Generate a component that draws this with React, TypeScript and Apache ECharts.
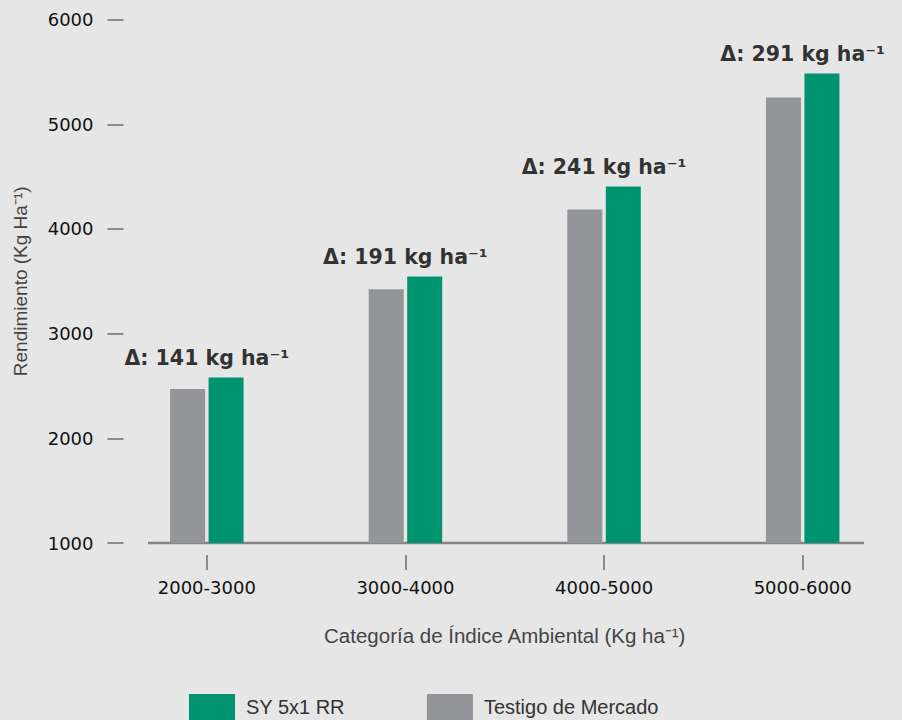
import React, { useEffect, useRef } from "react";
import * as echarts from "echarts";

const categories = ["2000-3000", "3000-4000", "4000-5000", "5000-6000"];
const testigoValues = [2470, 3425, 4185, 5255];
const syValues = [2580, 3545, 4405, 5485];
const deltas = [141, 191, 241, 291];
const yTicks = { min: 1000, max: 6000, interval: 1000 };
const seriesNames = ["SY 5x1 RR", "Testigo de Mercado"];

const GREEN = "#00936f";
const GRAY = "#939598";
const BG = "#e6e6e7";
const FONT = "'Liberation Sans', Arial, Helvetica, sans-serif";
const FONT_WIDE = "'DejaVu Sans', 'Liberation Sans', sans-serif";

export default function App() {
  const ref = useRef<HTMLDivElement>(null);
  useEffect(() => {
    if (!ref.current) return;
    const chart = echarts.init(ref.current, null, { renderer: "svg" });
    chart.setOption({
      animation: false,
      backgroundColor: BG,
      textStyle: { fontFamily: FONT },
      grid: { left: 107.5, width: 796, top: 19.6, height: 523.4, containLabel: false },
      legend: {
        data: [seriesNames[0], seriesNames[1]],
        left: 189,
        top: 694,
        padding: 0,
        itemWidth: 46,
        itemHeight: 26,
        itemGap: 82,
        icon: "rect",
        textStyle: { fontSize: 20, color: "#333", fontFamily: FONT, padding: [0, 0, 0, 6] },
      },
      xAxis: {
        type: "category",
        data: categories,
        offset: 12,
        axisLine: { show: false },
        axisTick: { show: true, alignWithLabel: true, length: 15, lineStyle: { color: "#8a8a8a", width: 2 } },
        axisLabel: { fontSize: 18, color: "#111", margin: 23, fontFamily: FONT_WIDE },
        name: "Categoría de Índice Ambiental (Kg ha⁻¹)",
        nameLocation: "middle",
        nameGap: 70,
        nameTextStyle: { fontSize: 20.5, color: "#444", fontFamily: FONT },
      },
      yAxis: {
        type: "value",
        min: yTicks.min,
        max: yTicks.max,
        interval: yTicks.interval,
        axisLine: { show: false },
        splitLine: { show: false },
        axisTick: { show: true, inside: true, length: 16, lineStyle: { color: "#8a8a8a", width: 2 } },
        axisLabel: {
          fontSize: 18,
          color: "#111",
          margin: 14,
          fontFamily: FONT_WIDE,
          formatter: (v: number) => String(v),
        },
        name: "Rendimiento (Kg Ha⁻¹)",
        nameLocation: "middle",
        nameGap: 78,
        nameTextStyle: { fontSize: 19, color: "#444", fontFamily: FONT },
      },
      series: [
        {
          name: seriesNames[1],
          type: "bar",
          data: testigoValues,
          barWidth: 35,
          barGap: "10%",
          itemStyle: { color: GRAY },
        },
        {
          name: seriesNames[0],
          type: "bar",
          data: syValues,
          barWidth: 35,
          barGap: "10%",
          itemStyle: { color: GREEN },
        },
        {
          name: "delta",
          type: "scatter",
          data: syValues,
          symbolSize: 0,
          silent: true,
          itemStyle: { color: "#000" },
          label: {
            show: true,
            position: "top",
            distance: 9,
            formatter: (p: any) => `Δ: ${deltas[p.dataIndex]} kg ha⁻¹`,
            fontSize: 20.5,
            fontWeight: "bold",
            color: "#000",
            fontFamily: FONT_WIDE,
          },
        },
      ],
      graphic: [
        {
          type: "line",
          shape: { x1: 148, y1: 543, x2: 864, y2: 543 },
          style: { stroke: "#858585", lineWidth: 2.5 },
          silent: true,
        },
      ],
    });
    return () => chart.dispose();
  }, []);
  return (
    <div
      ref={ref}
      style={{ position: "fixed", left: 0, top: 0, width: 902, height: 720, background: BG }}
    />
  );
}
